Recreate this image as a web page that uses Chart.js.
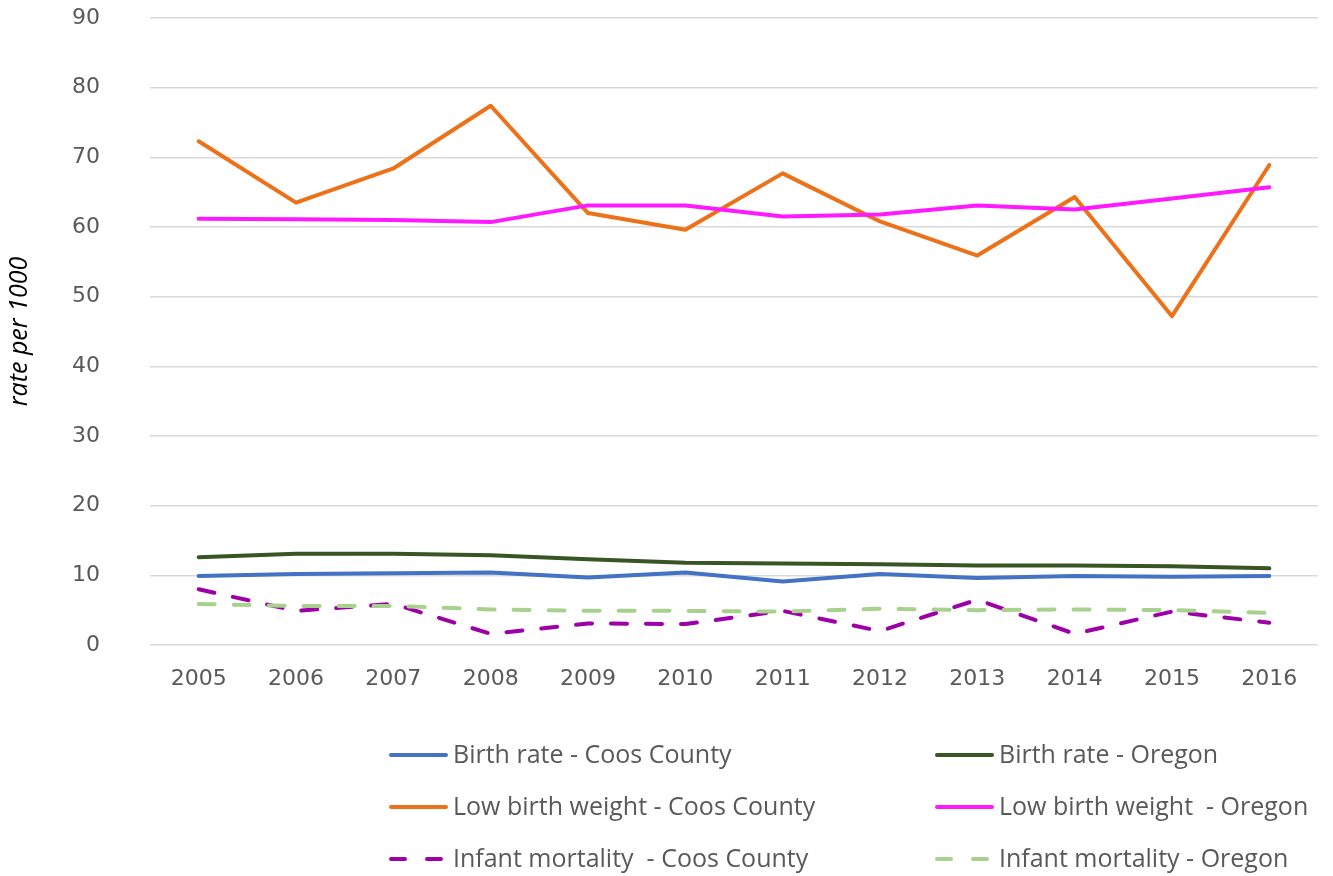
<!DOCTYPE html>
<html>
<head>
<meta charset="utf-8">
<script src="https://cdn.jsdelivr.net/npm/chart.js@4.4.0/dist/chart.umd.min.js"></script>
<style>
  html, body { margin: 0; padding: 0; background: #fff; }
  #wrap { width: 1333px; height: 876px; position: relative; }
</style>
</head>
<body>
<div id="wrap"><canvas id="rateChart" width="1333" height="876"></canvas></div>
<script>
const years = ['2005', '2006', '2007', '2008', '2009', '2010', '2011', '2012', '2013', '2014', '2015', '2016'];

const birthCoos = [9.9, 10.2, 10.3, 10.4, 9.7, 10.4, 9.1, 10.2, 9.6, 9.9, 9.8, 9.9];
const birthOregon = [12.6, 13.1, 13.1, 12.9, 12.3, 11.8, 11.7, 11.6, 11.4, 11.4, 11.3, 11.0];
const lbwCoos = [72.3, 63.5, 68.4, 77.4, 62.0, 59.6, 67.7, 60.8, 55.9, 64.3, 47.2, 68.9];
const lbwOregon = [61.2, 61.1, 61.0, 60.7, 63.1, 63.1, 61.5, 61.8, 63.1, 62.5, 64.1, 65.7];
const infantCoos = [8.0, 4.9, 5.9, 1.6, 3.1, 3.0, 4.9, 2.0, 6.5, 1.6, 4.8, 3.2];
const infantOregon = [5.9, 5.6, 5.6, 5.1, 4.9, 4.9, 4.8, 5.2, 5.0, 5.1, 5.0, 4.6];

const yTicks = [0, 10, 20, 30, 40, 50, 60, 70, 80, 90];

const DASH = [16, 19];

const series = [
  { label: 'Birth rate - Coos County', data: birthCoos, color: '#4472C4', dash: [] },
  { label: 'Birth rate - Oregon', data: birthOregon, color: '#375623', dash: [] },
  { label: 'Low birth weight - Coos County', data: lbwCoos, color: '#ED7119', dash: [] },
  { label: 'Low birth weight  - Oregon', data: lbwOregon, color: '#FF19FF', dash: [] },
  { label: 'Infant mortality  - Coos County', data: infantCoos, color: '#9C00A6', dash: DASH },
  { label: 'Infant mortality - Oregon', data: infantOregon, color: '#A9D18E', dash: DASH }
];

// legend in two columns, three rows, drawn below the x axis
const legendPlugin = {
  id: 'twoColLegend',
  afterDraw(chart) {
    const ctx = chart.ctx;
    const cols = [390, 936];
    const rows = [755, 807, 859];
    ctx.save();
    ctx.font = '25px "Open Sans"';
    ctx.textBaseline = 'middle';
    series.forEach((s, i) => {
      const x = cols[i % 2];
      const y = rows[Math.floor(i / 2)];
      ctx.beginPath();
      ctx.strokeStyle = s.color;
      ctx.lineWidth = 4;
      ctx.lineCap = 'round';
      ctx.setLineDash(s.dash.length ? [14, 22] : []);
      ctx.moveTo(x + 1, y);
      ctx.lineTo(x + 56, y);
      ctx.stroke();
      ctx.setLineDash([]);
      ctx.fillStyle = '#595959';
      ctx.fillText(s.label, x + 63, y + 1);
    });
    ctx.restore();
  }
};

const ctx = document.getElementById('rateChart').getContext('2d');
new Chart(ctx, {
  type: 'line',
  data: {
    labels: years,
    datasets: series.map((s, i) => ({
      label: s.label,
      data: s.data,
      borderColor: s.color,
      backgroundColor: s.color,
      borderWidth: 4,
      borderDash: s.dash,
      borderCapStyle: 'round',
      borderJoinStyle: 'round',
      pointRadius: 0,
      tension: 0,
      fill: false,
      order: series.length - i
    }))
  },
  options: {
    responsive: false,
    animation: false,
    layout: { padding: { left: 0, right: 15, top: 18, bottom: 171 } },
    plugins: {
      legend: { display: false },
      tooltip: { enabled: false }
    },
    scales: {
      x: {
        offset: true,
        grid: { display: false, drawTicks: false },
        border: { display: false },
        ticks: {
          color: '#595959',
          font: { family: 'DejaVu Sans', size: 22 },
          padding: 21,
          maxRotation: 0
        },
        afterFit(scale) { scale.height = 60; }
      },
      y: {
        min: 0,
        max: 90,
        afterBuildTicks(scale) { scale.ticks = yTicks.map(v => ({ value: v })); },
        grid: { color: '#d9d9d9', lineWidth: 1.5, drawTicks: false },
        border: { display: false },
        ticks: {
          color: '#595959',
          font: { family: 'DejaVu Sans', size: 22 },
          padding: 50
        },
        title: {
          display: true,
          text: 'rate per 1000',
          color: '#000',
          font: { family: 'Open Sans', size: 25, style: 'italic' },
          padding: { top: 5, bottom: 0 }
        },
        afterFit(scale) {
          scale.width = 150;
          scale.paddingTop = 0;
          scale.paddingBottom = 0;
        }
      }
    }
  },
  plugins: [legendPlugin]
});
</script>
</body>
</html>
